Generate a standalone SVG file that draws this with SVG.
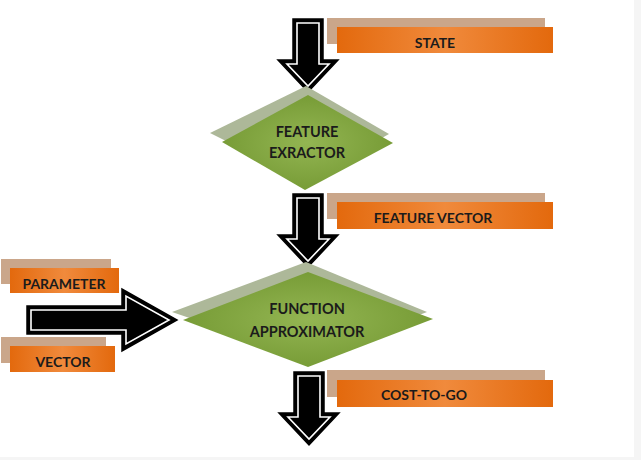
<svg xmlns="http://www.w3.org/2000/svg" width="641" height="460" viewBox="0 0 641 460">
  <style>
    .lbl { font-family: "Lato", "Open Sans", "Liberation Sans", sans-serif; font-weight: bold; fill: #1b1b1b; text-anchor: middle; }
    .tag { font-size: 14px; }
    .dia { font-size: 14.5px; }
    .back { fill: #caa68a; }
    .front { fill: url(#orange); }
    .shade { fill: #adb899; }
    .leaf { fill: url(#green); }
    .outer { fill: #000; stroke: #000; stroke-width: 1.5; stroke-linejoin: miter; }
    .inner { fill: #000; stroke: #fff; stroke-width: 1.6; stroke-linejoin: miter; }
  </style>
  <defs>
    <linearGradient id="orange" x1="0" y1="0" x2="1" y2="0">
      <stop offset="0" stop-color="#e3690d"/>
      <stop offset="0.5" stop-color="#f08a3c"/>
      <stop offset="1" stop-color="#e3690d"/>
    </linearGradient>
    <radialGradient id="green" cx="0.5" cy="0.5" r="0.6">
      <stop offset="0" stop-color="#93b552"/>
      <stop offset="1" stop-color="#729731"/>
    </radialGradient>
    <g id="down">
      <path class="outer" d="M-15,0 H15 V41 H30 L0,73 L-30,41 H-15 Z"/>
      <path class="inner" d="M-11,4 H11 V45 H21 L0,67 L-21,45 H-11 Z"/>
    </g>
  </defs>

  <rect x="0" y="0" width="641" height="460" fill="#fff"/>
  <!-- faint frame edges -->
  <rect x="634" y="0" width="7" height="460" fill="#f5f5f5"/>
  <rect x="0" y="457" width="641" height="3" fill="#f5f5f5"/>

  <g id="connectors">
    <use href="#down" transform="translate(308,19)"/>
    <use href="#down" transform="translate(308,194)"/>
    <use href="#down" transform="translate(309,372)"/>
    <g id="param-arrow" transform="translate(27,320)">
      <path class="outer" d="M0,-14 H95 V-31 L150,0 L95,31 V14 H0 Z"/>
      <path class="inner" d="M4,-10 H99 V-24 L142,0 L99,24 V10 H4 Z"/>
    </g>
  </g>

  <g id="state">
    <rect class="back" x="327" y="18" width="218" height="26"/>
    <rect class="front" x="337" y="27" width="216" height="26"/>
    <text class="lbl tag" x="435" y="48">STATE</text>
  </g>

  <g id="feature-extractor">
    <polygon class="shade" points="306,86 389,134 306,181 210,133"/>
    <polygon class="leaf" points="308,95 393,143 305,190 222,142"/>
    <text class="lbl dia" x="307" y="137">FEATURE</text>
    <text class="lbl dia" x="307" y="158">EXRACTOR</text>
  </g>

  <g id="feature-vector">
    <rect class="back" x="327" y="193" width="218" height="26"/>
    <rect class="front" x="337" y="202" width="216" height="27"/>
    <text class="lbl tag" x="433" y="223">FEATURE VECTOR</text>
  </g>

  <g id="parameter">
    <rect class="back" x="1" y="259" width="110" height="25"/>
    <rect class="front" x="10" y="268" width="109" height="25"/>
    <text class="lbl tag" x="64" y="289">PARAMETER</text>
  </g>

  <g id="vector">
    <rect class="back" x="1" y="337" width="105" height="26"/>
    <rect class="front" x="10" y="346" width="105" height="26"/>
    <text class="lbl tag" x="63" y="367">VECTOR</text>
  </g>

  <g id="function-approximator">
    <polygon class="shade" points="306,262 427,312 306,358 172,312"/>
    <polygon class="leaf" points="308,272 433,319 308,367 183,320"/>
    <text class="lbl dia" x="307" y="314">FUNCTION</text>
    <text class="lbl dia" x="307" y="337">APPROXIMATOR</text>
  </g>

  <g id="cost-to-go">
    <rect class="back" x="327" y="370" width="218" height="27"/>
    <rect class="front" x="337" y="380" width="216" height="27"/>
    <text class="lbl tag" x="424" y="400">COST-TO-GO</text>
  </g>
</svg>
